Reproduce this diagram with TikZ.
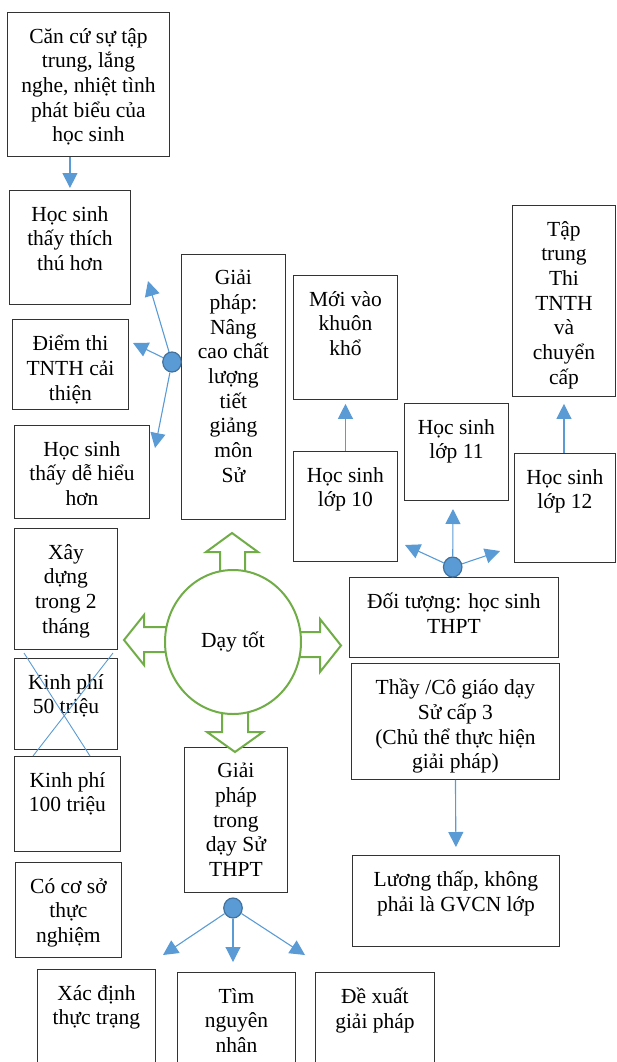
\documentclass[tikz,border=0pt]{standalone}
\usepackage{fontspec}
\setmainfont{Liberation Serif}
\usetikzlibrary{arrows.meta, shapes.geometric}

\definecolor{blueline}{RGB}{91,155,213}
\definecolor{bluedark}{RGB}{65,113,156}
\definecolor{greenline}{RGB}{112,173,71}

\begin{document}
\begin{tikzpicture}[
  x=1pt,
  y=-1pt,
  frame/.style={draw=black!80, line width=0.9pt, anchor=north west, inner sep=0pt},
  txt/.style={anchor=north, align=center, inner sep=0pt,
    font=\fontsize{21.5}{24.7}\selectfont, execute at begin node=\rule{0pt}{21pt}},
  arr/.style={draw=blueline, line width=1.1pt, -{Triangle[width=15pt,length=15pt]}},
  hub/.style={ellipse, fill=blueline, draw=bluedark, line width=1.2pt,
    minimum width=18.5pt, minimum height=20pt, inner sep=0pt},
  bigarr/.style={draw=greenline, line width=2pt, fill=white, line join=miter}
  ]
  \useasboundingbox (0,0) rectangle (616,1062);

  % Left column
  \node[frame, minimum width=162pt, minimum height=144pt] (can) at (7,12) {};
  \node[txt] at ([yshift=-16pt]can.north) {Căn cứ sự tập\\trung, lắng\\nghe, nhiệt tình\\phát biểu của\\học sinh};

  \node[frame, minimum width=121pt, minimum height=114pt] (thich) at (9,190) {};
  \node[txt] at ([yshift=-16pt]thich.north) {Học sinh\\thấy thích\\thú hơn};

  \node[frame, minimum width=116pt, minimum height=90pt] (diem) at (12,319) {};
  \node[txt] at ([yshift=-16pt]diem.north) {Điểm thi\\TNTH cải\\thiện};

  \node[frame, minimum width=135pt, minimum height=93pt] (dehieu) at (14,425) {};
  \node[txt] at ([yshift=-16pt]dehieu.north) {Học sinh\\thấy dễ hiểu\\hơn};

  \node[frame, minimum width=103pt, minimum height=121pt] (xaydung) at (14,528) {};
  \node[txt] at ([yshift=-16pt]xaydung.north) {Xây\\dựng\\trong 2\\tháng};

  \node[frame, minimum width=103pt, minimum height=91pt] (kp50) at (14,658) {};
  \node[txt] at ([yshift=-16pt]kp50.north) {Kinh phí\\50 triệu};

  \node[frame, minimum width=106pt, minimum height=95pt] (kp100) at (14,756) {};
  \node[txt] at ([yshift=-16pt]kp100.north) {Kinh phí\\100 triệu};

  \node[frame, minimum width=106pt, minimum height=95pt] (coso) at (15,862) {};
  \node[txt] at ([yshift=-16pt]coso.north) {Có cơ sở\\thực\\nghiệm};

  % cross over the 50 trieu box
  \coordinate (xa) at (24,653);
  \coordinate (xb) at (90,756);
  \coordinate (xc) at (113,653);
  \coordinate (xd) at (33,756);
  \draw[blueline, line width=0.9pt] (xa) -- (xb);
  \draw[blueline, line width=0.9pt] (xc) -- (xd);

  % Middle column
  \node[frame, minimum width=104pt, minimum height=265pt] (giaiphap) at (181,254) {};
  \node[txt] at ([yshift=-16pt]giaiphap.north) {Giải\\pháp:\\Nâng\\cao chất\\lượng\\tiết\\giảng\\môn\\Sử};

  \node[frame, minimum width=103pt, minimum height=145pt] (gpthpt) at (184,747) {};
  \node[txt] at ([yshift=-16pt]gpthpt.north) {Giải\\pháp\\trong\\dạy Sử\\THPT};

  \node[frame, minimum width=118pt, minimum height=101pt] (xacdinh) at (37,969) {};
  \node[txt] at ([yshift=-16pt]xacdinh.north) {Xác định\\thực trạng};

  \node[frame, minimum width=118pt, minimum height=97pt] (timnn) at (177,972) {};
  \node[txt] at ([yshift=-16pt]timnn.north) {Tìm\\nguyên\\nhân};

  \node[frame, minimum width=119pt, minimum height=97pt] (dexuat) at (315,972) {};
  \node[txt] at ([yshift=-16pt]dexuat.north) {Đề xuất\\giải pháp};

  % Right side
  \node[frame, minimum width=104pt, minimum height=124pt] (moivao) at (293,275) {};
  \node[txt] at ([yshift=-16pt]moivao.north) {Mới vào\\khuôn\\khổ};

  \node[frame, minimum width=104pt, minimum height=110pt] (lop10) at (293,451) {};
  \node[txt] at ([yshift=-16pt]lop10.north) {Học sinh\\lớp 10};

  \node[frame, minimum width=104pt, minimum height=97pt] (lop11) at (404,403) {};
  \node[txt] at ([yshift=-16pt]lop11.north) {Học sinh\\lớp 11};

  \node[frame, minimum width=103pt, minimum height=191pt] (taptrung) at (512,205) {};
  \node[txt] at ([yshift=-16pt]taptrung.north) {Tập\\trung\\Thi\\TNTH\\và\\chuyển\\cấp};

  \node[frame, minimum width=101pt, minimum height=109pt] (lop12) at (514,453) {};
  \node[txt] at ([yshift=-16pt]lop12.north) {Học sinh\\lớp 12};

  \node[frame, minimum width=209pt, minimum height=80pt] (doituong) at (349,577) {};
  \node[txt] at ([yshift=-16pt]doituong.north) {Đối tượng: học sinh\\THPT};

  \node[frame, minimum width=208pt, minimum height=116pt] (thaygiao) at (351,663) {};
  \node[txt] at ([yshift=-16pt]thaygiao.north) {Thầy /Cô giáo dạy\\Sử cấp 3\\(Chủ thể thực hiện\\giải pháp)};

  \node[frame, minimum width=207pt, minimum height=91pt] (luong) at (352,855) {};
  \node[txt] at ([yshift=-16pt]luong.north) {Lương thấp, không\\phải là GVCN lớp};

  % straight arrows
  \draw[arr, shorten >=2pt] (can.south -| thich.north) -- (thich.north);
  \draw[arr, shorten >=4pt] (lop10.north) -- (moivao.south);
  \draw[arr, shorten >=7pt] (taptrung.south |- lop12.north) -- (taptrung.south);
  \draw[arr, shorten >=8pt] (thaygiao.south) -- (luong.north);

  % green block arrows round the circle
  \draw[bigarr] (220,580) -- (220,552) -- (206,552) -- (232,533) -- (258,552) -- (245,552) -- (245,580) -- cycle;
  \draw[bigarr] (222,705) -- (222,732) -- (207,732) -- (235,752) -- (263,732) -- (248,732) -- (248,705) -- cycle;
  \draw[bigarr] (175,627) -- (144,627) -- (144,615) -- (124,640) -- (144,665) -- (144,652) -- (175,652) -- cycle;
  \draw[bigarr] (292,632) -- (320,632) -- (320,619) -- (341,645.5) -- (320,672) -- (320,657) -- (292,657) -- cycle;

  \node[ellipse, draw=greenline, line width=2pt, fill=white, minimum width=136pt, minimum height=144pt,
    font=\fontsize{21.5}{24.7}\selectfont] (daytot) at (233,642) {Dạy tốt};

  % hubs with fan-out arrows
  \node[hub] (h1) at (172,362) {};
  \coordinate (t1a) at (148,281);
  \coordinate (t1b) at (133,343);
  \coordinate (t1c) at (155,448);
  \draw[arr] (h1) -- (t1a);
  \draw[arr] (h1) -- (t1b);
  \draw[arr] (h1) -- (t1c);

  \node[hub] (h2) at (452.7,567) {};
  \coordinate (t2a) at (405,545);
  \coordinate (t2b) at (453,509);
  \coordinate (t2c) at (500,551);
  \draw[arr] (h2) -- (t2a);
  \draw[arr] (h2) -- (t2b);
  \draw[arr] (h2) -- (t2c);

  \node[hub] (h3) at (233,908) {};
  \coordinate (t3a) at (163,955);
  \coordinate (t3b) at (233,962);
  \coordinate (t3c) at (305,955);
  \draw[arr] (h3) -- (t3a);
  \draw[arr] (h3) -- (t3b);
  \draw[arr] (h3) -- (t3c);

\end{tikzpicture}
\end{document}
